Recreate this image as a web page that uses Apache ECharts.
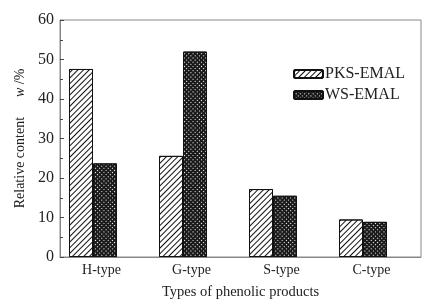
<!DOCTYPE html>
<html>
<head>
<meta charset="utf-8">
<script src="https://cdn.jsdelivr.net/npm/echarts@6/dist/echarts.min.js"></script>
<style>
  html, body { margin: 0; padding: 0; background: #fff; }
  #chart { width: 432px; height: 307px; }
</style>
</head>
<body>
<div id="chart"></div>
<script>
const categories = ['H-type', 'G-type', 'S-type', 'C-type'];
const pksValues = [47.6, 25.6, 17.2, 9.5];
const wsValues = [23.7, 52.0, 15.5, 8.9];
const yTicks = [0, 10, 20, 30, 40, 50, 60];

const font = '"Liberation Serif", "Times New Roman", serif';
const chart = echarts.init(document.getElementById('chart'));

const toPoints = (vals) => vals.map((v, i) => [i + 1, v]);

const options = {
    animation: false,
    grid: {
        left: 60, right: 11, top: 20, bottom: 50,
        show: true, borderColor: '#888', borderWidth: 1
    },
    legend: {
        orient: 'vertical',
        left: 288, top: 61,
        itemWidth: 29, itemHeight: 8, itemGap: 5,
        textStyle: { fontFamily: font, fontSize: 16, color: '#222', padding: [0, 0, 0, -3] },
        data: ['PKS-EMAL', 'WS-EMAL']
    },
    xAxis: {
        type: 'value',
        min: 1 - 33 / 90,
        max: 4 + 58 / 90,
        splitLine: { show: false },
        axisLine: { lineStyle: { color: '#888' } },
        axisTick: { show: false },
        axisLabel: {
            customValues: [1, 2, 3, 4],
            formatter: (v) => categories[Math.round(v) - 1] || '',
            fontFamily: font, fontSize: 14, color: '#222', margin: 6,
            padding: [0, 0, 0, 17]
        },
        name: 'Types of phenolic products',
        nameLocation: 'middle',
        nameGap: 28,
        nameTextStyle: { fontFamily: font, fontSize: 14.5, color: '#222' }
    },
    yAxis: {
        type: 'value',
        min: yTicks[0],
        max: yTicks[yTicks.length - 1],
        interval: 10,
        splitLine: { show: false },
        axisLine: { show: true, lineStyle: { color: '#888' } },
        axisTick: { show: true, inside: true, length: 4, lineStyle: { color: '#444' } },
        minorTick: { show: true, splitNumber: 2, length: 3, lineStyle: { color: '#444' } },
        axisLabel: { fontFamily: font, fontSize: 16, color: '#222', margin: 6 },
        name: '{n|Relative content}      {i|w} {n|/%}',
        nameLocation: 'middle',
        nameRotate: 90,
        nameGap: 30,
        nameTextStyle: {
            rich: {
                n: { fontFamily: font, fontSize: 14, color: '#222' },
                i: { fontFamily: font, fontSize: 14, color: '#222', fontStyle: 'italic' }
            }
        }
    },
    series: [
        {
            name: 'PKS-EMAL',
            type: 'bar',
            barWidth: 24,
            barGap: '0%',
            itemStyle: {
                color: '#fff',
                borderColor: '#111',
                borderWidth: 1,
                decal: {
                    symbol: 'rect',
                    color: '#111',
                    dashArrayX: [1, 0],
                    dashArrayY: [1, 2.2],
                    rotation: -Math.PI / 4,
                    symbolSize: 1
                }
            },
            data: toPoints(pksValues)
        },
        {
            name: 'WS-EMAL',
            type: 'bar',
            barWidth: 24,
            barGap: '0%',
            itemStyle: {
                color: '#1a1a1a',
                borderColor: '#111',
                borderWidth: 1,
                decal: {
                    symbol: 'rect',
                    color: '#fff',
                    dashArrayX: [1, 1.6],
                    dashArrayY: [1, 1.6],
                    symbolSize: 1,
                    rotation: Math.PI / 4
                }
            },
            data: toPoints(wsValues)
        }
    ]
};

chart.setOption(options);
</script>
</body>
</html>
